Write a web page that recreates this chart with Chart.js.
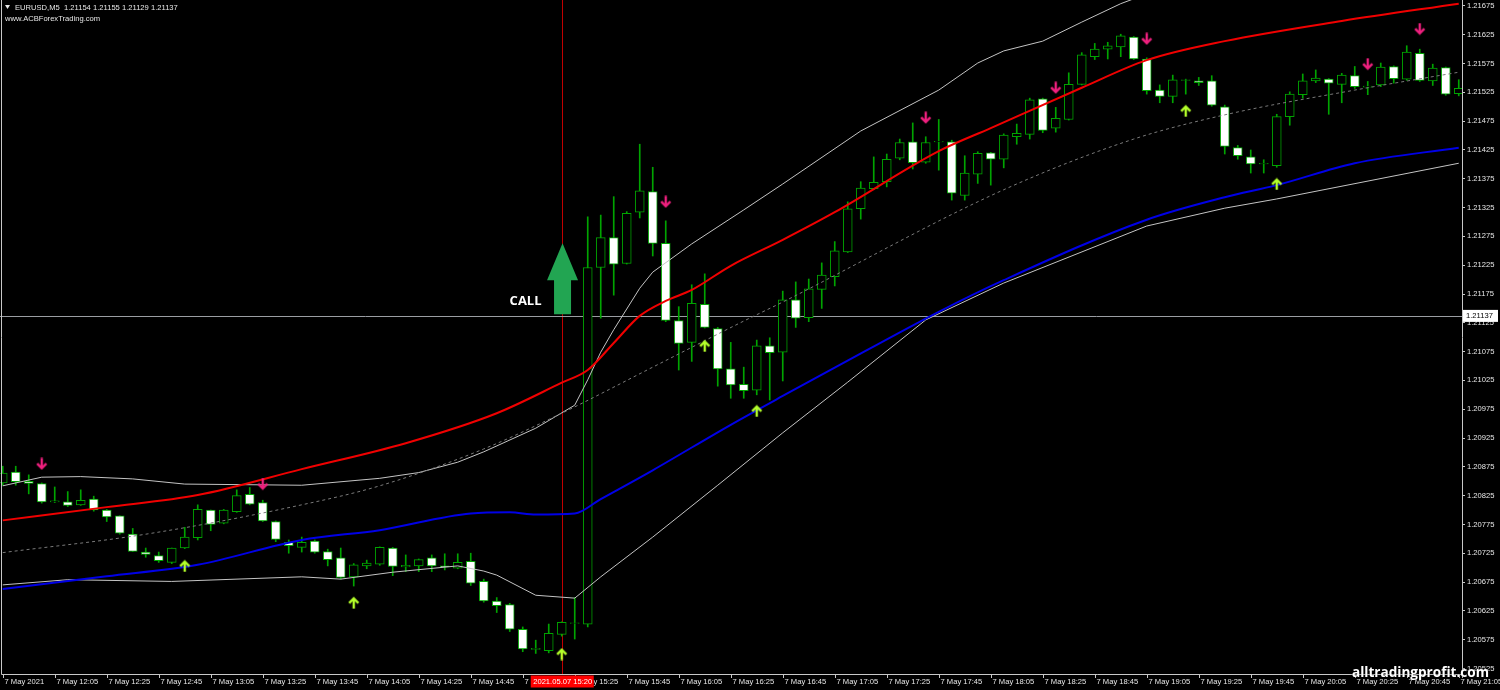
<!DOCTYPE html>
<html>
<head>
<meta charset="utf-8">
<script src="https://cdn.jsdelivr.net/npm/chart.js@4.4.1/dist/chart.umd.min.js"></script>
<style>
  html, body { margin: 0; padding: 0; background: #000; }
  #wrap { position: relative; width: 1500px; height: 690px; }
</style>
</head>
<body>
<div id="wrap"><canvas id="chart"></canvas></div>
<script>
// EURUSD M5, 7 May 2021, one bar every 5 minutes starting 11:45
const opens = [1.20847,1.20866,1.20850,1.20846,1.20814,1.20814,1.20809,1.20819,1.20800,1.20790,
  1.20758,1.20727,1.20721,1.20709,1.20734,1.20752,1.20800,1.20777,1.20797,1.20827,
  1.20813,1.20780,1.20744,1.20735,1.20746,1.20728,1.20717,1.20684,1.20703,1.20706,
  1.20734,1.20701,1.20703,1.20717,1.20703,1.20699,1.20711,1.20676,1.20642,1.20636,
  1.20593,1.20558,1.20556,1.20584,1.20603,1.20602,1.21221,1.21273,1.21228,1.21317,
  1.21353,1.21263,1.21129,1.21091,1.21157,1.21115,1.21045,1.21018,1.21008,1.21085,
  1.21074,1.21165,1.21134,1.21183,1.21205,1.21248,1.21323,1.21358,1.21370,1.21411,
  1.21439,1.21404,1.21439,1.21439,1.21346,1.21383,1.21420,1.21409,1.21448,1.21452,
  1.21514,1.21463,1.21478,1.21539,1.21587,1.21600,1.21604,1.21621,1.21583,1.21529,
  1.21518,1.21546,1.21545,1.21545,1.21500,1.21429,1.21413,1.21401,1.21398,1.21483,
  1.21521,1.21545,1.21548,1.21539,1.21554,1.21534,1.21538,1.21570,1.21548,1.21593,
  1.21545,1.21568,1.21523];
const highs = [1.20876,1.20876,1.20861,1.20847,1.20840,1.20832,1.20835,1.20824,1.20801,1.20790,
  1.20768,1.20734,1.20727,1.20734,1.20770,1.20809,1.20800,1.20801,1.20835,1.20839,
  1.20817,1.20781,1.20748,1.20753,1.20748,1.20732,1.20734,1.20707,1.20713,1.20736,
  1.20735,1.20722,1.20715,1.20722,1.20724,1.20724,1.20725,1.20680,1.20648,1.20638,
  1.20597,1.20574,1.20602,1.20606,1.20648,1.21309,1.21312,1.21344,1.21318,1.21435,
  1.21395,1.21302,1.21153,1.21191,1.21210,1.21117,1.21091,1.21048,1.21095,1.21099,
  1.21180,1.21196,1.21201,1.21229,1.21266,1.21335,1.21370,1.21413,1.21418,1.21444,
  1.21472,1.21448,1.21478,1.21442,1.21415,1.21422,1.21421,1.21453,1.21470,1.21515,
  1.21515,1.21499,1.21559,1.21594,1.21610,1.21612,1.21626,1.21622,1.21585,1.21538,
  1.21555,1.21548,1.21551,1.21554,1.21503,1.21433,1.21425,1.21408,1.21487,1.21526,
  1.21557,1.21564,1.21549,1.21558,1.21570,1.21544,1.21576,1.21571,1.21606,1.21600,
  1.21574,1.21569,1.21547];
const lows = [1.20843,1.20843,1.20828,1.20812,1.20813,1.20806,1.20808,1.20798,1.20780,1.20758,
  1.20728,1.20718,1.20709,1.20707,1.20733,1.20748,1.20764,1.20776,1.20796,1.20809,
  1.20780,1.20745,1.20725,1.20727,1.20725,1.20703,1.20680,1.20668,1.20698,1.20704,
  1.20686,1.20693,1.20693,1.20693,1.20696,1.20698,1.20669,1.20640,1.20622,1.20589,
  1.20554,1.20551,1.20552,1.20581,1.20576,1.20597,1.21133,1.21173,1.21227,1.21307,
  1.21241,1.21127,1.21043,1.21058,1.21116,1.21015,1.20994,1.20994,1.21000,1.20991,
  1.21024,1.21117,1.21127,1.21150,1.21189,1.21247,1.21305,1.21356,1.21361,1.21408,
  1.21392,1.21402,1.21390,1.21338,1.21338,1.21367,1.21364,1.21394,1.21435,1.21444,
  1.21455,1.21456,1.21477,1.21538,1.21582,1.21583,1.21587,1.21582,1.21522,1.21507,
  1.21507,1.21522,1.21537,1.21501,1.21418,1.21409,1.21385,1.21385,1.21395,1.21468,
  1.21515,1.21542,1.21487,1.21507,1.21532,1.21521,1.21535,1.21541,1.21546,1.21544,
  1.21537,1.21520,1.21519];
const closes = [1.20864,1.20849,1.20846,1.20814,1.20816,1.20808,1.20817,1.20800,1.20788,1.20760,
  1.20728,1.20723,1.20712,1.20734,1.20753,1.20801,1.20775,1.20800,1.20825,1.20810,
  1.20781,1.20749,1.20738,1.20744,1.20727,1.20714,1.20683,1.20705,1.20708,1.20735,
  1.20702,1.20704,1.20714,1.20703,1.20701,1.20709,1.20673,1.20642,1.20634,1.20593,
  1.20559,1.20560,1.20586,1.20605,1.20604,1.21221,1.21273,1.21227,1.21315,1.21354,
  1.21263,1.21129,1.21089,1.21159,1.21117,1.21045,1.21017,1.21007,1.21085,1.21073,
  1.21165,1.21133,1.21184,1.21208,1.21250,1.21323,1.21359,1.21369,1.21409,1.21438,
  1.21403,1.21438,1.21440,1.21350,1.21385,1.21419,1.21409,1.21451,1.21454,1.21512,
  1.21459,1.21480,1.21539,1.21590,1.21600,1.21606,1.21623,1.21583,1.21528,1.21518,
  1.21547,1.21547,1.21542,1.21503,1.21431,1.21415,1.21401,1.21402,1.21483,1.21522,
  1.21545,1.21550,1.21541,1.21555,1.21535,1.21536,1.21569,1.21549,1.21595,1.21546,
  1.21567,1.21522,1.21532];

// indicator lines, [bar index, price]
const redLine = [[0,1.20782],[8,1.20805],[15,1.20826],[23,1.20871],[31,1.20916],[38,1.20968],
  [43,1.21021],[45,1.21043],[47,1.21090],[49,1.21137],[51,1.21163],[53,1.21182],[56,1.21224],
  [60,1.21269],[64,1.21317],[72,1.21423],[76,1.21463],[83,1.21533],[88,1.21581],[94,1.21614],
  [103,1.21649],[112,1.21679]];
const blueLine = [[0,1.20663],[8,1.20685],[15,1.20705],[23,1.20748],[29,1.20765],[36,1.20794],
  [39,1.20796],[41,1.20792],[44,1.20794],[46,1.20819],[50,1.20869],[56,1.20948],[60,1.20998],
  [64,1.21047],[72,1.21144],[77,1.21199],[88,1.21304],[94,1.21343],[98,1.21364],[104,1.21402],
  [112,1.21429]];
const upperBand = [[0,1.20842],[3,1.20857],[6,1.20858],[10,1.20854],[14,1.20845],[23,1.20843],
  [29,1.20855],[32,1.20865],[35,1.20883],[37,1.20901],[41,1.20942],[44,1.20982],[45,1.21026],
  [46,1.21074],[47,1.21113],[49,1.21185],[50,1.21213],[53,1.21262],[57,1.21321],[60,1.21366],
  [66,1.21458],[72,1.21529],[75,1.21576],[77,1.21597],[80,1.21614],[83,1.21647],[86,1.21679],
  [88,1.21696]];
const lowerBand = [[0,1.20670],[5,1.20679],[13,1.20676],[23,1.20684],[26,1.20680],[30,1.20692],
  [35,1.20703],[37,1.20694],[38,1.20687],[41,1.20652],[44,1.20647],[46,1.20684],[50,1.20753],
  [55,1.20843],[60,1.20934],[65,1.21022],[71,1.21130],[77,1.21194],[88,1.21293],[94,1.21324],
  [98,1.21340],[112,1.21402]];
const midLine = [[0,1.20726],[11,1.20758],[23,1.20809],[29,1.20842],[37,1.20906],[43,1.20968],
  [50,1.21048],[57,1.21128],[60,1.21161],[77,1.21356],[87,1.21444],[94,1.21486],[104,1.21529],
  [112,1.21560]];

// signal arrows
const downArrows = [[3,1.20880],[20,1.20845],[51,1.21335],[71,1.21481],[81,1.21533],[88,1.21618],[105,1.21574],[109,1.21635]];
const upArrows = [[14,1.20703],[27,1.20639],[43,1.20550],[54,1.21085],[58,1.20972],[91,1.21493],[98,1.21366]];

// axis labels
const yTicks = [1.20525,1.20575,1.20625,1.20675,1.20725,1.20775,1.20825,1.20875,1.20925,1.20975,
  1.21025,1.21075,1.21125,1.21175,1.21225,1.21275,1.21325,1.21375,1.21425,1.21475,
  1.21525,1.21575,1.21625,1.21675];
const xTickIdx = [0,4,8,12,16,20,24,28,32,36,40,44,48,52,56,60,64,68,72,76,80,84,88,92,96,100,104,108,112];
const xTickLabels = ['7 May 2021','7 May 12:05','7 May 12:25','7 May 12:45','7 May 13:05','7 May 13:25',
  '7 May 13:45','7 May 14:05','7 May 14:25','7 May 14:45','7 May 15:05','7 May 15:25','7 May 15:45',
  '7 May 16:05','7 May 16:25','7 May 16:45','7 May 17:05','7 May 17:25','7 May 17:45','7 May 18:05',
  '7 May 18:25','7 May 18:45','7 May 19:05','7 May 19:25','7 May 19:45','7 May 20:05','7 May 20:25',
  '7 May 20:45','7 May 21:05'];

// crosshair and CALL marker
const crossIdx = 43;
const crossPrice = 1.21137;
const crossTime = '2021.05.07 15:20';
const callTip = 1.21263, callHead = 1.21199, callBase = 1.21140;

const GREEN = '#00a400';
const SMALL = '7.6px "Liberation Sans", Arial, sans-serif';

function arrowImage(color, down) {
  const c = document.createElement('canvas');
  c.width = 12; c.height = 13;
  const g = c.getContext('2d');
  g.strokeStyle = color;
  g.lineWidth = 2.4;
  if (down) { g.translate(0, 13); g.scale(1, -1); }
  g.beginPath(); g.moveTo(6, 2); g.lineTo(6, 12.5); g.stroke();
  g.beginPath(); g.moveTo(1.4, 6.8); g.lineTo(6, 2.2); g.lineTo(10.6, 6.8); g.stroke();
  return c;
}

function pts(arr) { return arr.map(p => ({x: p[0], y: p[1]})); }

const overlay = {
  id: 'overlay',
  beforeDatasetsDraw(chart) {
    const {ctx, chartArea, scales: {x, y}} = chart;
    ctx.save();
    // crosshair
    const cx = Math.round(x.getPixelForValue(crossIdx)) + 0.5;
    ctx.strokeStyle = '#c00000';
    ctx.lineWidth = 1;
    ctx.beginPath(); ctx.moveTo(cx, chartArea.top); ctx.lineTo(cx, chartArea.bottom); ctx.stroke();
    const cy = Math.round(y.getPixelForValue(crossPrice)) + 0.5;
    ctx.strokeStyle = '#9a9da2';
    ctx.beginPath(); ctx.moveTo(chartArea.left, cy); ctx.lineTo(chartArea.right, cy); ctx.stroke();
    ctx.restore();
  },
  afterDatasetsDraw(chart) {
    const {ctx, scales: {x, y}} = chart;
    ctx.save();
    // big CALL arrow
    const cx = x.getPixelForValue(crossIdx) + 0.8;
    const tip = y.getPixelForValue(callTip);
    const head = y.getPixelForValue(callHead);
    const base = y.getPixelForValue(callBase);
    ctx.fillStyle = '#22a552';
    ctx.beginPath();
    ctx.moveTo(cx, tip);
    ctx.lineTo(cx + 15.5, head);
    ctx.lineTo(cx + 8.5, head);
    ctx.lineTo(cx + 8.5, base);
    ctx.lineTo(cx - 8.5, base);
    ctx.lineTo(cx - 8.5, head);
    ctx.lineTo(cx - 15.5, head);
    ctx.closePath();
    ctx.fill();
    ctx.fillStyle = '#ffffff';
    ctx.font = 'bold 13px "Open Sans", sans-serif';
    ctx.textAlign = 'right';
    ctx.textBaseline = 'middle';
    ctx.fillText('CALL', cx - 21, base - 13);
    ctx.restore();
  },
  afterDraw(chart) {
    const {ctx, chartArea, scales: {x, y}} = chart;
    ctx.save();
    // frame
    ctx.strokeStyle = '#c8c8c8';
    ctx.lineWidth = 1;
    ctx.beginPath();
    ctx.moveTo(1.5, 0); ctx.lineTo(1.5, chartArea.bottom + 0.5);
    ctx.lineTo(chartArea.right + 0.5, chartArea.bottom + 0.5);
    ctx.lineTo(chartArea.right + 0.5, chartArea.bottom + 4);
    ctx.stroke();
    // time axis
    ctx.font = SMALL;
    ctx.fillStyle = '#e6e6e6';
    ctx.textAlign = 'left';
    ctx.textBaseline = 'middle';
    xTickIdx.forEach((idx, k) => {
      const px = Math.round(x.getPixelForValue(idx)) + 0.5;
      ctx.beginPath(); ctx.moveTo(px, chartArea.bottom); ctx.lineTo(px, chartArea.bottom + 4); ctx.stroke();
      ctx.fillText(xTickLabels[k], px + 1, chartArea.bottom + 8);
    });
    // crosshair time box
    const cx = x.getPixelForValue(crossIdx) + 1;
    ctx.fillStyle = '#ff0000';
    ctx.fillRect(cx - 32, chartArea.bottom + 1.5, 63, 12);
    ctx.fillStyle = '#ffffff';
    ctx.textAlign = 'center';
    ctx.fillText(crossTime, cx, chartArea.bottom + 8);
    // crosshair price box
    const cy = y.getPixelForValue(crossPrice);
    ctx.fillStyle = '#ffffff';
    ctx.fillRect(chartArea.right + 1, cy - 6, 35, 12);
    ctx.fillStyle = '#000000';
    ctx.textAlign = 'left';
    ctx.fillText(crossPrice.toFixed(5), chartArea.right + 4, cy);
    // header
    ctx.fillStyle = '#e6e6e6';
    ctx.beginPath(); ctx.moveTo(5, 5); ctx.lineTo(10, 5); ctx.lineTo(7.5, 9); ctx.closePath(); ctx.fill();
    ctx.fillText('EURUSD,M5  1.21154 1.21155 1.21129 1.21137', 15, 7.5);
    ctx.fillText('www.ACBForexTrading.com', 5, 18.5);
    // watermark
    ctx.font = 'bold 16px "Open Sans", sans-serif';
    const w = ctx.measureText('alltradingprofit.com').width;
    const fs = 16 * 137 / w;
    ctx.font = 'bold ' + fs.toFixed(2) + 'px "Open Sans", sans-serif';
    ctx.textBaseline = 'alphabetic';
    ctx.shadowColor = 'rgba(0,0,0,0.9)';
    ctx.shadowBlur = 2;
    ctx.fillStyle = '#ffffff';
    ctx.fillText('alltradingprofit.com', 1352, 677);
    ctx.restore();
  }
};

const bodyColors = opens.map((o, i) => closes[i] >= o ? '#000000' : '#ffffff');

new Chart(document.getElementById('chart'), {
  type: 'bar',
  data: {
    datasets: [
      {type: 'line', data: pts(downArrows), showLine: false, pointStyle: arrowImage('#f0207f', true),
       pointRadius: 6, order: 0},
      {type: 'line', data: pts(upArrows), showLine: false, pointStyle: arrowImage('#b4ff2a', false),
       pointRadius: 6, order: 0},
      {type: 'line', data: pts(redLine), borderColor: '#f00000', borderWidth: 2, pointRadius: 0,
       cubicInterpolationMode: 'monotone', order: 1},
      {type: 'line', data: pts(blueLine), borderColor: '#0000e6', borderWidth: 2, pointRadius: 0,
       cubicInterpolationMode: 'monotone', order: 2},
      {type: 'line', data: pts(midLine), borderColor: '#7a7a7a', borderWidth: 1, borderDash: [3, 3],
       pointRadius: 0, cubicInterpolationMode: 'monotone', order: 3},
      {type: 'line', data: pts(upperBand), borderColor: '#c4c4c4', borderWidth: 1, pointRadius: 0,
       tension: 0, order: 4},
      {type: 'line', data: pts(lowerBand), borderColor: '#c4c4c4', borderWidth: 1, pointRadius: 0,
       tension: 0, order: 5},
      {data: opens.map((o, i) => ({x: i, y: [o, closes[i]]})), backgroundColor: bodyColors,
       borderColor: GREEN, borderWidth: 1, borderSkipped: false, barThickness: 9, grouped: false, order: 6},
      {data: lows.map((l, i) => ({x: i, y: [l, highs[i]]})), backgroundColor: GREEN,
       borderWidth: 0, barThickness: 1, grouped: false, order: 7}
    ]
  },
  options: {
    responsive: true,
    maintainAspectRatio: false,
    animation: false,
    devicePixelRatio: 1,
    layout: {padding: 0, autoPadding: false},
    plugins: {legend: {display: false}, tooltip: {enabled: false}},
    scales: {
      x: {
        type: 'linear',
        min: -0.21,
        max: 112.25,
        offset: false,
        grid: {display: false, offset: false},
        border: {display: false},
        ticks: {display: false},
        afterFit(s) { s.height = 16; s.paddingLeft = 0; s.paddingRight = 0; }
      },
      y: {
        position: 'right',
        min: 1.205153,
        max: 1.216854,
        afterBuildTicks(s) { s.ticks = yTicks.map(v => ({value: v})); },
        grid: {drawOnChartArea: false, drawTicks: true, tickLength: 3, color: '#c8c8c8'},
        border: {display: true, color: '#c8c8c8'},
        ticks: {
          padding: 2,
          color: '#e6e6e6',
          font: {family: '"Liberation Sans", Arial, sans-serif', size: 7.6},
          callback: v => Number(v).toFixed(5)
        },
        afterFit(s) { s.width = 38; s.paddingTop = 0; s.paddingBottom = 0; }
      }
    }
  },
  plugins: [overlay]
});
</script>
</body>
</html>
